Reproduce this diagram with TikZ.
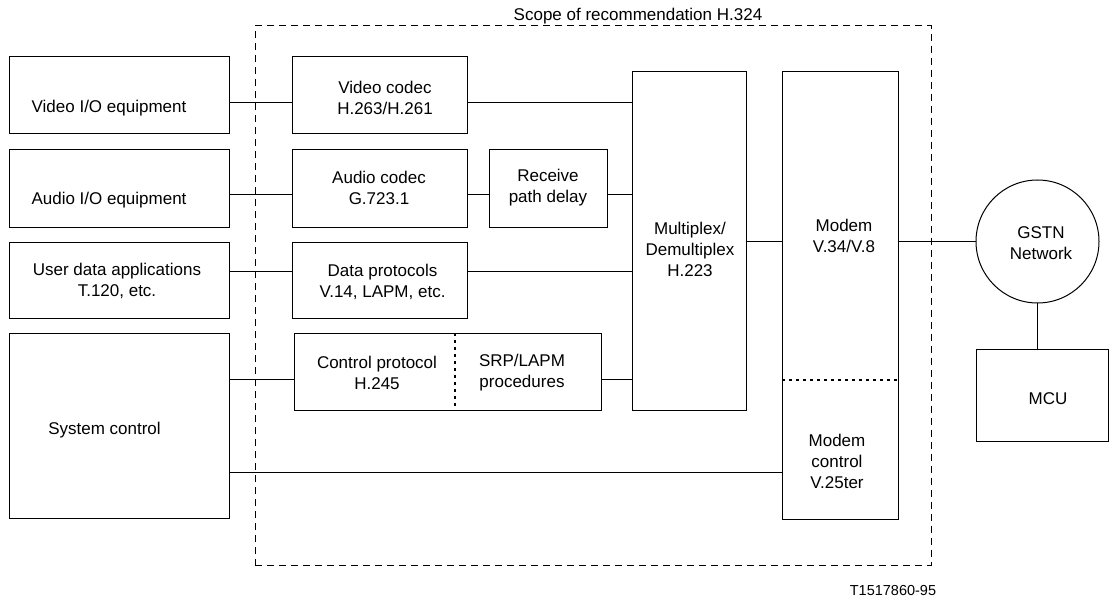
\documentclass[tikz,border=0pt]{standalone}
\usepackage{fontspec}
\setmainfont{Liberation Sans}
\usetikzlibrary{fit}
\begin{document}
\begin{tikzpicture}[x=1pt,y=-1pt,
  every node/.style={inner sep=0pt, outer sep=0pt},
  txt/.style={font=\fontsize{17}{21}\selectfont, align=center},
  smalltxt/.style={font=\fontsize{14.5}{18}\selectfont},
  blk/.style={draw, line width=1pt},
  roundblk/.style={draw, line width=1pt, circle, minimum size=123pt},
  conn/.style={line width=1pt},
  divider/.style={line width=1.6pt, dash pattern=on 2.5pt off 4.5pt},
  scopeframe/.style={draw, line width=1pt, dash pattern=on 7pt off 5pt}]
\useasboundingbox (0,0) rectangle (1109,599);

% scope frame and its title
\node[scopeframe, fit={(255,26) (931,565)}] (scope) {};
\node[txt] (scopet) at (638,16) {Scope of recommendation H.324};

% terminal equipment on the left
\node[blk, fit={(9,57) (229,134)}] (vio) {};
\node[blk, fit={(9,150) (229,227)}] (aio) {};
\node[blk, fit={(9,242) (229,318)}] (udata) {};
\node[blk, fit={(9,333) (229,518)}] (sysc) {};
\node[txt] (viot) at (109,108) {Video I/O equipment};
\node[txt] (aiot) at (109,200) {Audio I/O equipment};
\node[txt] (udatat) at (117,281) {User data applications\\T.120, etc.};
\node[txt] (sysct) at (104.5,430) {System control};

% codecs and protocols
\node[blk, fit={(292,57) (467,134)}] (vcod) {};
\node[blk, fit={(292,150) (467,227)}] (acod) {};
\node[blk, fit={(292,242) (467,318)}] (dprot) {};
\node[blk, fit={(294,333) (601,410)}] (cprot) {};
\node[blk, fit={(489,150) (607,227)}] (rpd) {};
\node[txt] (vcodt) at (385,97.5) {Video codec\\H.263/H.261};
\node[txt] (acodt) at (379,188) {Audio codec\\G.723.1};
\node[txt] (dprott) at (382.5,282) {Data protocols\\V.14, LAPM, etc.};
\node[txt] (cprott) at (377,373) {Control protocol\\H.245};
\node[txt] (srpt) at (522,373) {SRP/LAPM\\procedures};
\node[txt] (rpdt) at (548,188) {Receive\\path delay};

% multiplex and modem
\node[blk, fit={(632,72) (746,410)}] (mux) {};
\node[blk, fit={(782,72) (898,519)}] (modem) {};
\node[txt] (muxt) at (690,249) {Multiplex/\\Demultiplex\\H.223};
\node[txt] (modemt) at (844,236) {Modem\\V.34/V.8};
\node[txt] (mctlt) at (837,461) {Modem\\control\\V.25ter};

% network side
\node[roundblk] (gstn) at (1037.5,241.5) {};
\node[txt] (gstnt) at (1041,243.5) {GSTN\\Network};
\node[blk, fit={(976,349) (1108,441)}] (mcu) {};
\node[txt] (mcut) at (1048,399) {MCU};

\node[smalltxt] (figno) at (893,591) {T1517860-95};

% internal dotted separations
\coordinate (cdiv) at (455,0);
\coordinate (mdiv) at (0,380);
\draw[divider] (cdiv |- cprot.north) -- (cdiv |- cprot.south);
\draw[divider] (modem.west |- mdiv) -- (modem.east |- mdiv);

% signal levels of the connectors
\coordinate (yv) at (0,103);
\coordinate (ya) at (0,195);
\coordinate (yd) at (0,271);
\coordinate (yc) at (0,379);
\coordinate (ym) at (0,472);

\draw[conn] (vio.east |- yv) -- (vcod.west |- yv);
\draw[conn] (vcod.east |- yv) -- (mux.west |- yv);
\draw[conn] (aio.east |- ya) -- (acod.west |- ya);
\draw[conn] (acod.east |- ya) -- (rpd.west |- ya);
\draw[conn] (rpd.east |- ya) -- (mux.west |- ya);
\draw[conn] (udata.east |- yd) -- (dprot.west |- yd);
\draw[conn] (dprot.east |- yd) -- (mux.west |- yd);
\draw[conn] (sysc.east |- yc) -- (cprot.west |- yc);
\draw[conn] (cprot.east |- yc) -- (mux.west |- yc);
\draw[conn] (sysc.east |- ym) -- (modem.west |- ym);
\draw[conn] (mux.east) -- (modem.west |- mux.east);
\draw[conn] (modem.east |- gstn.west) -- (gstn.west);
\draw[conn] (gstn.south) -- (gstn.south |- mcu.north);
\end{tikzpicture}
\end{document}
